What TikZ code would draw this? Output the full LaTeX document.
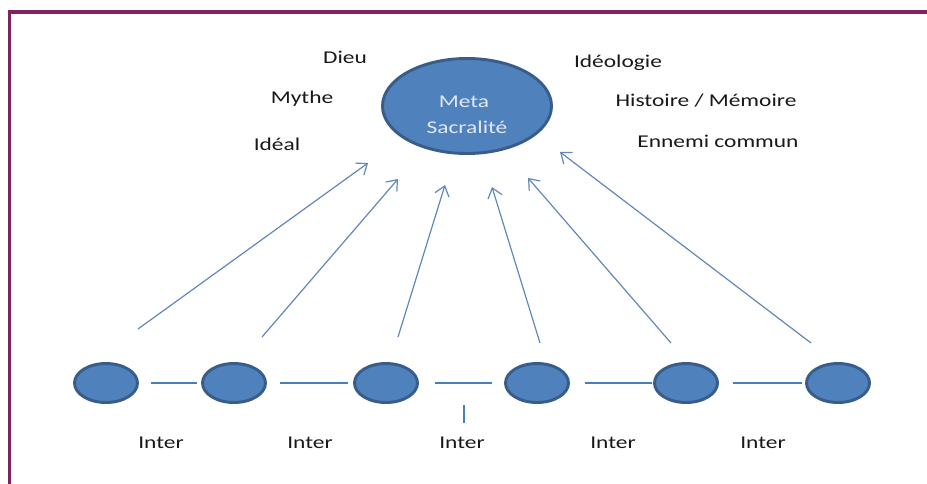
\documentclass[tikz,border=0pt]{standalone}
\usepackage{fontspec}
\setmainfont{Carlito}
\usetikzlibrary{shapes.geometric,arrows.meta}
\definecolor{fillblue}{RGB}{79,129,189}
\definecolor{edgeblue}{RGB}{56,93,138}
\definecolor{lineblue}{RGB}{74,126,187}
\definecolor{arrowblue}{RGB}{98,135,185}
\definecolor{framepurple}{RGB}{128,34,98}
\definecolor{lighttext}{RGB}{224,232,244}
\definecolor{darktext}{RGB}{25,25,25}
\newcommand{\wtxt}[1]{\scalebox{1.3}[1]{#1}}
\tikzset{
  bigell/.style={ellipse, draw=edgeblue, fill=fillblue, line width=2.2pt, minimum width=126.75pt, minimum height=71.25pt, inner sep=0pt},
  smallell/.style={ellipse, draw=edgeblue, fill=fillblue, line width=2.2pt, minimum width=47.25pt, minimum height=29.25pt, inner sep=0pt},
  lbl/.style={anchor=base, inner sep=0pt, font=\fontsize{13.5pt}{16pt}\selectfont, text=darktext},
  inlbl/.style={anchor=base, inner sep=0pt, font=\fontsize{13.5pt}{16pt}\selectfont, text=lighttext},
  arr/.style={draw=arrowblue, line width=0.9pt, -{Straight Barb[length=7pt,width=11pt,line width=0.9pt]}},
  link/.style={draw=lineblue, line width=0.8pt},
  frame/.style={draw=framepurple, line width=2.4pt}
}
\begin{document}
\begin{tikzpicture}[x=0.75pt,y=-0.75pt]
\useasboundingbox (0,0) rectangle (927,483);
\fill[white] (0,0) rectangle (927,483);
% frame
\coordinate (fb) at (9.5,490);
\coordinate (fc) at (9.5,12);
\coordinate (fr) at (935,12);
\draw[frame] (fb) -- (fc) -- (fr);
% big ellipse
\node[bigell] (meta) at (467,106) {};
\node[inlbl] (tmeta) at (464,107) {\wtxt{Meta}};
\node[inlbl] (tsacr) at (467,133) {\wtxt{Sacralité}};
% labels
\node[lbl] (dieu) at (345,63) {\wtxt{Dieu}};
\node[lbl] (mythe) at (302,103) {\wtxt{Mythe}};
\node[lbl] (ideal) at (277,150) {\wtxt{Idéal}};
\node[lbl] (ideo) at (618,67) {\wtxt{Idéologie}};
\node[lbl] (hist) at (706,106) {\wtxt{Histoire / Mémoire}};
\node[lbl] (enn) at (718,147) {\wtxt{Ennemi commun}};
% small ellipses
\node[smallell] (e1) at (106,383) {};
\node[smallell] (e2) at (234,383) {};
\node[smallell] (e3) at (386,383) {};
\node[smallell] (e4) at (537,383) {};
\node[smallell] (e5) at (686,383) {};
\node[smallell] (e6) at (838,383) {};
% links
\coordinate (l1a) at (151,383); \coordinate (l1b) at (197,383);
\coordinate (l2a) at (280,383); \coordinate (l2b) at (348,383);
\coordinate (l3a) at (435,383); \coordinate (l3b) at (492,383);
\coordinate (l4a) at (585,383); \coordinate (l4b) at (652,383);
\coordinate (l5a) at (733,383); \coordinate (l5b) at (802,383);
\coordinate (tka) at (464,405); \coordinate (tkb) at (464,423);
\draw[link] (l1a) -- (l1b);
\draw[link] (l2a) -- (l2b);
\draw[link] (l3a) -- (l3b);
\draw[link] (l4a) -- (l4b);
\draw[link] (l5a) -- (l5b);
\draw[link] (tka) -- (tkb);
% inter labels
\node[lbl] (i1) at (161,448) {\wtxt{Inter}};
\node[lbl] (i2) at (310,448) {\wtxt{Inter}};
\node[lbl] (i3) at (462,448) {\wtxt{Inter}};
\node[lbl] (i4) at (613,448) {\wtxt{Inter}};
\node[lbl] (i5) at (763,448) {\wtxt{Inter}};
% arrows
\coordinate (a1s) at (138,329); \coordinate (a1e) at (368,163);
\coordinate (a2s) at (262,337); \coordinate (a2e) at (398,179);
\coordinate (a3s) at (398,337); \coordinate (a3e) at (445,185);
\coordinate (a4s) at (540,343); \coordinate (a4e) at (492,187);
\coordinate (a5s) at (671,343); \coordinate (a5e) at (528,178);
\coordinate (a6s) at (811,343); \coordinate (a6e) at (560,152);
\draw[arr] (a1s) -- (a1e);
\draw[arr] (a2s) -- (a2e);
\draw[arr] (a3s) -- (a3e);
\draw[arr] (a4s) -- (a4e);
\draw[arr] (a5s) -- (a5e);
\draw[arr] (a6s) -- (a6e);
\end{tikzpicture}
\end{document}
